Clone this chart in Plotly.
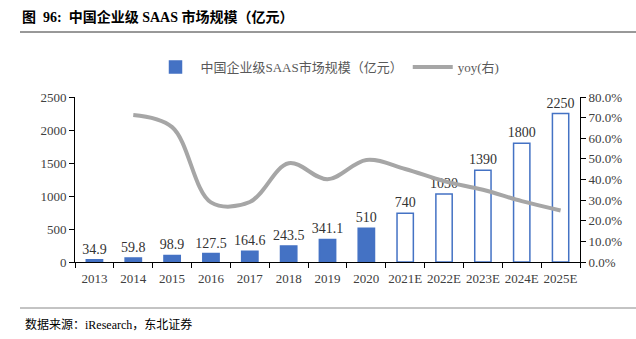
import plotly.graph_objects as go

categories = ["2013","2014","2015","2016","2017","2018","2019","2020","2021E","2022E","2023E","2024E","2025E"]
market = [34.9, 59.8, 98.9, 127.5, 164.6, 243.5, 341.1, 510, 740, 1030, 1390, 1800, 2250]
bar_labels = ["34.9","59.8","98.9","127.5","164.6","243.5","341.1","510","740","1030","1390","1800","2250"]
yoy_cats = categories[1:]
yoy = [0.713, 0.654, 0.289, 0.291, 0.479, 0.401, 0.495, 0.451, 0.392, 0.35, 0.295, 0.25]
forecast = [c.endswith("E") for c in categories]

blue = "#4472C4"
serif = "Liberation Serif, Times New Roman, Noto Sans CJK SC"
cjk = "Liberation Serif, Noto Sans CJK SC"

fig = go.Figure()
fig.add_trace(go.Bar(
    x=categories, y=market, name="中国企业级SAAS市场规模（亿元）",
    marker=dict(color=["white" if f else blue for f in forecast],
                line=dict(color=blue, width=1.5)),
    width=0.42, text=bar_labels, textposition="outside", constraintext="none",
    textfont=dict(family=serif, size=14, color="#333333"), cliponaxis=False,
))
fig.add_trace(go.Scatter(
    x=yoy_cats, y=yoy, name="yoy(右)", yaxis="y2", mode="lines",
    line=dict(color="#A6A6A6", width=4, shape="spline", smoothing=1.0),
))

fig.update_layout(
    width=636, height=339, margin=dict(l=75, r=56, t=97, b=77),
    paper_bgcolor="white", plot_bgcolor="white", showlegend=True,
    uniformtext=dict(minsize=14, mode="show"),
    legend=dict(orientation="h", x=0.5, xanchor="center", y=1 + (97-67)/165, yanchor="middle",
                font=dict(family=cjk, size=13, color="#595959"), itemwidth=40,
                traceorder="normal"),
    xaxis=dict(type="category", showline=True, linecolor="#000000", linewidth=1,
               ticks="outside", tickson="boundaries", ticklen=5, tickcolor="#000000",
               tickangle=0, automargin=False, ticklabelstandoff=4,
               tickfont=dict(family=serif, size=13, color="#404040"),
               showgrid=False),
    yaxis=dict(range=[0, 2500], dtick=500, showline=True, linecolor="#000000",
               ticks="outside", ticklen=5, tickcolor="#000000", showgrid=False,
               zeroline=False, tickfont=dict(family=serif, size=13, color="#404040")),
    yaxis2=dict(range=[0, 0.8], dtick=0.1, tickformat=".1%", overlaying="y", side="right",
                showline=True, linecolor="#000000", ticks="outside", ticklen=5,
                tickcolor="#000000", showgrid=False, zeroline=False,
                tickfont=dict(family=serif, size=13, color="#404040")),
    bargap=0.5,
)

fig.add_annotation(text="<b>图  96:  中国企业级 SAAS 市场规模（亿元）</b>", xref="paper", yref="paper",
                   x=-55/505, y=1 + (97-17)/165, xanchor="left", yanchor="middle", showarrow=False,
                   font=dict(family=cjk, size=14, color="#000000"))
fig.add_shape(type="line", xref="paper", yref="paper", x0=-55/505, x1=1+56/505,
              y0=1 + (97-32)/165, y1=1 + (97-32)/165, line=dict(color="#333333", width=1))
fig.add_shape(type="line", xref="paper", yref="paper", x0=-55/505, x1=1+56/505,
              y0=-(308-262)/165, y1=-(308-262)/165, line=dict(color="#888888", width=1))
fig.add_annotation(text="数据来源：iResearch，东北证券", xref="paper", yref="paper",
                   x=-52/505, y=-(324-262)/165, xanchor="left", yanchor="middle", showarrow=False,
                   font=dict(family=cjk, size=12, color="#000000"))

fig.write_html("out.html")
